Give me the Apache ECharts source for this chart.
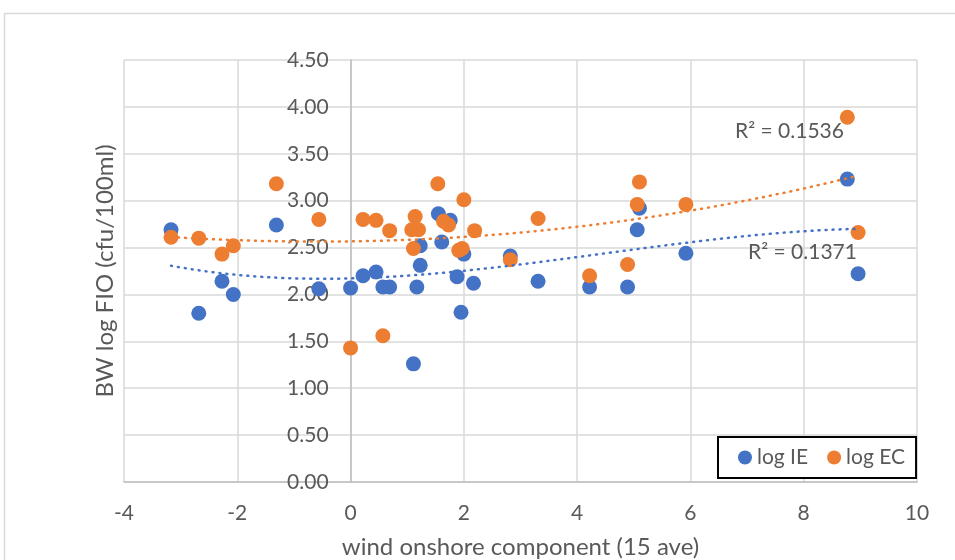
<!DOCTYPE html>
<html>
<head>
<meta charset="utf-8">
<script src="https://cdn.jsdelivr.net/npm/echarts@6/dist/echarts.min.js"></script>
<style>
  html, body { margin: 0; padding: 0; background: #ffffff; }
  #chart { width: 955px; height: 560px; }
</style>
</head>
<body>
<div id="chart"></div>
<script>
// Wind onshore component (15-sample average) against bathing-water log FIO
const ieWind = [-3.17, -2.68, -2.27, -2.07, -1.31, -0.56, 0.00, 0.22, 0.45, 0.57, 0.69,
                1.11, 1.17, 1.23, 1.23, 1.55, 1.61, 1.76, 1.88, 1.95, 2.00, 2.17,
                2.82, 3.31, 4.22, 4.89, 5.06, 5.10, 5.92, 8.77, 8.96];
const ieLog  = [2.69, 1.80, 2.14, 2.00, 2.74, 2.06, 2.07, 2.20, 2.24, 2.08, 2.08,
                1.26, 2.08, 2.31, 2.52, 2.86, 2.56, 2.79, 2.19, 1.81, 2.43, 2.12,
                2.41, 2.14, 2.08, 2.08, 2.69, 2.92, 2.44, 3.23, 2.22];

const ecWind = [-3.17, -2.68, -2.27, -2.07, -1.31, -0.56, 0.00, 0.22, 0.45, 0.57, 0.69,
                1.08, 1.11, 1.14, 1.20, 1.54, 1.64, 1.73, 1.91, 1.97, 2.00, 2.19,
                2.82, 3.31, 4.22, 4.89, 5.06, 5.10, 5.92, 8.77, 8.96];
const ecLog  = [2.61, 2.60, 2.43, 2.52, 3.18, 2.80, 1.43, 2.80, 2.79, 1.56, 2.68,
                2.69, 2.49, 2.83, 2.69, 3.18, 2.78, 2.74, 2.47, 2.49, 3.01, 2.68,
                2.37, 2.81, 2.20, 2.32, 2.96, 3.20, 2.96, 3.89, 2.66];

const seriesNames = ['log IE', 'log EC'];
const rSquaredText = ['R² = 0.1371', 'R² = 0.1536'];
const xTicks = { min: -4, max: 10, step: 2 };
const yTicks = { min: 0, max: 4.5, step: 0.5 };
const trendOrder = 3;

const BLUE = '#4472C4';
const ORANGE = '#ED7D31';
const TEXT = '#595959';
const FONT = 'Lato, "Open Sans", sans-serif';

const GRID = { left: 124, right: 38, top: 60, bottom: 78 };
const PLOT_W = 955 - GRID.left - GRID.right;

// Least-squares polynomial trendline (normal equations, Gaussian elimination)
function polyFit(xs, ys, order) {
  const m = order + 1;
  const A = [];
  for (let r = 0; r < m; r++) A.push(new Array(m + 1).fill(0));
  for (let i = 0; i < xs.length; i++) {
    for (let r = 0; r < m; r++) {
      for (let c = 0; c < m; c++) A[r][c] += Math.pow(xs[i], r + c);
      A[r][m] += Math.pow(xs[i], r) * ys[i];
    }
  }
  for (let c = 0; c < m; c++) {
    for (let r = c + 1; r < m; r++) {
      const f = A[r][c] / A[c][c];
      for (let k = c; k <= m; k++) A[r][k] -= f * A[c][k];
    }
  }
  const b = new Array(m).fill(0);
  for (let r = m - 1; r >= 0; r--) {
    let v = A[r][m];
    for (let k = r + 1; k < m; k++) v -= A[r][k] * b[k];
    b[r] = v / A[r][r];
  }
  return b;
}
const evalPoly = (c, x) => c.reduce((s, v, i) => s + v * Math.pow(x, i), 0);
function trendPoints(xs, ys) {
  const c = polyFit(xs, ys, trendOrder);
  const lo = Math.min(...xs), hi = Math.max(...xs);
  const pts = [];
  const steps = 100;
  for (let i = 0; i <= steps; i++) {
    const x = lo + (hi - lo) * i / steps;
    pts.push([x, evalPoly(c, x)]);
  }
  return pts;
}
const pair = (xs, ys) => xs.map((x, i) => [x, ys[i]]);

// value labels sit beside the vertical axis where it crosses x = 0
const zeroOffset = PLOT_W * (0 - xTicks.min) / (xTicks.max - xTicks.min);

const chart = echarts.init(document.getElementById('chart'), null, { renderer: 'canvas' });

const dotted = (color) => ({ color: color, width: 2.5, type: [1, 6], cap: 'round' });

chart.setOption({
  backgroundColor: '#ffffff',
  animation: false,
  textStyle: { fontFamily: FONT },
  grid: Object.assign({ outerBoundsMode: 'none', containLabel: false }, GRID),
  graphic: [
    { type: 'rect', shape: { x: 4.5, y: 13.5, width: 1000, height: 600 },
      style: { fill: 'none', stroke: '#d9d9d9', lineWidth: 1.5 }, z: -10 },
    { type: 'text', left: 735, top: 121,
      style: { text: rSquaredText[1], fill: TEXT, font: '21px ' + FONT }, z: 20 },
    { type: 'text', left: 748, top: 242,
      style: { text: rSquaredText[0], fill: TEXT, font: '21px ' + FONT }, z: 20 }
  ],
  legend: {
    data: seriesNames,
    left: 718, top: 437,
    orient: 'horizontal',
    icon: 'circle',
    itemWidth: 14, itemHeight: 14, itemGap: 19,
    padding: [10, 11, 10, 20],
    borderColor: '#000000', borderWidth: 2,
    backgroundColor: '#ffffff',
    textStyle: { color: TEXT, fontSize: 21, fontFamily: FONT }
  },
  xAxis: {
    type: 'value',
    min: xTicks.min, max: xTicks.max, interval: xTicks.step,
    name: 'wind onshore component (15 ave)',
    nameLocation: 'middle', nameGap: 53,
    nameTextStyle: { color: TEXT, fontSize: 24, fontFamily: FONT },
    axisLine: { onZero: false, lineStyle: { color: '#bfbfbf', width: 1.5 } },
    axisTick: { show: false },
    axisLabel: { color: TEXT, fontSize: 21, margin: 21, fontFamily: FONT },
    splitLine: { show: true, lineStyle: { color: '#d9d9d9', width: 1.5 } }
  },
  yAxis: {
    type: 'value',
    min: yTicks.min, max: yTicks.max, interval: yTicks.step,
    name: 'BW log FIO (cfu/100ml)',
    nameLocation: 'middle', nameRotate: 90, nameGap: 7,
    nameTextStyle: { color: TEXT, fontSize: 24, fontFamily: FONT },
    axisLine: { show: true, onZero: true, lineStyle: { color: '#bfbfbf', width: 1.5 } },
    axisTick: { show: false },
    axisLabel: { color: TEXT, fontSize: 21, margin: 22 - zeroOffset, fontFamily: FONT,
                 formatter: (v) => v.toFixed(2) },
    splitLine: { show: true, lineStyle: { color: '#d9d9d9', width: 1.5 } }
  },
  series: [
    { name: seriesNames[0], type: 'scatter', data: pair(ieWind, ieLog),
      symbolSize: 15, itemStyle: { color: BLUE, opacity: 1 }, z: 2 },
    { name: seriesNames[1], type: 'scatter', data: pair(ecWind, ecLog),
      symbolSize: 15, itemStyle: { color: ORANGE, opacity: 1 }, z: 3 },
    { name: 'trend IE', type: 'line', data: trendPoints(ieWind, ieLog),
      showSymbol: false, symbol: 'none', lineStyle: dotted(BLUE), z: 4, silent: true },
    { name: 'trend EC', type: 'line', data: trendPoints(ecWind, ecLog),
      showSymbol: false, symbol: 'none', lineStyle: dotted(ORANGE), z: 4, silent: true }
  ]
});
</script>
</body>
</html>
